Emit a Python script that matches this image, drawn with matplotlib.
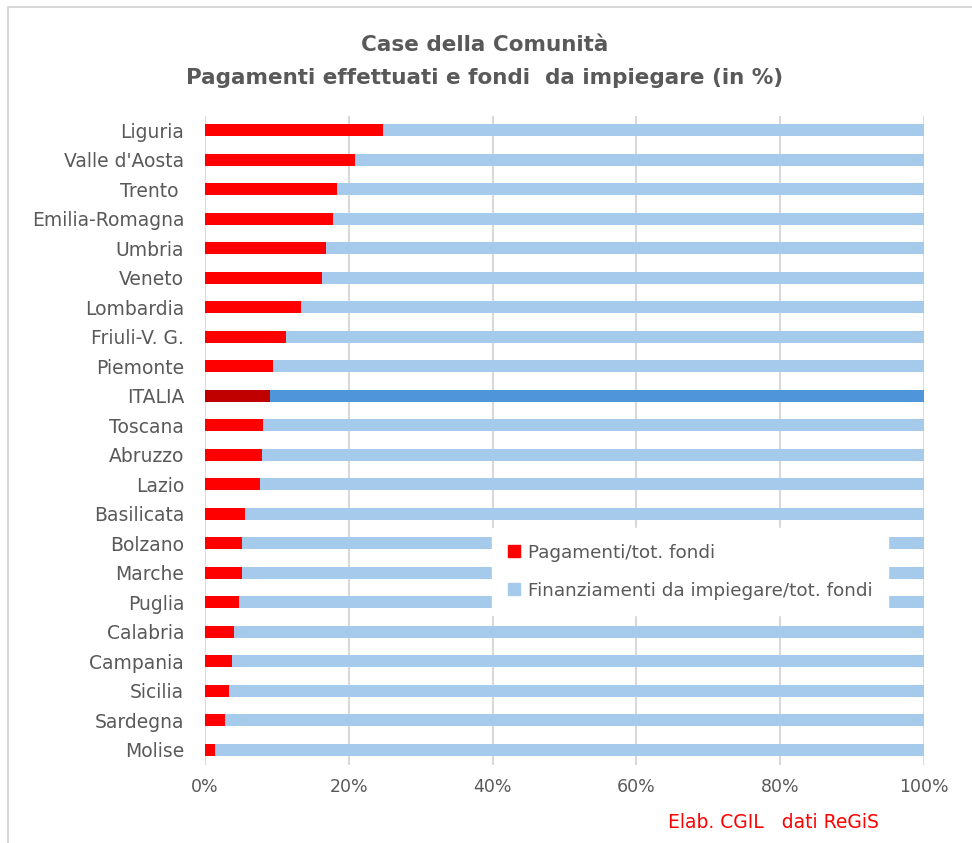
import matplotlib
matplotlib.use("Agg")
import matplotlib.pyplot as plt
from matplotlib.patches import Rectangle
from matplotlib.ticker import PercentFormatter
import numpy as np

# data (top to bottom as shown)
regions = ["Liguria", "Valle d'Aosta", "Trento ", "Emilia-Romagna", "Umbria",
           "Veneto", "Lombardia", "Friuli-V. G.", "Piemonte", "ITALIA",
           "Toscana", "Abruzzo", "Lazio", "Basilicata", "Bolzano", "Marche",
           "Puglia", "Calabria", "Campania", "Sicilia", "Sardegna", "Molise"]
pagamenti = [24.7, 20.9, 18.3, 17.8, 16.8, 16.3, 13.3, 11.2, 9.5, 9.1,
             8.0, 7.95, 7.6, 5.5, 5.2, 5.1, 4.7, 4.0, 3.8, 3.3, 2.8, 1.4]
da_impiegare = [100 - p for p in pagamenti]

RED, BLUE = "#FF0000", "#A6CAEC"
RED_IT, BLUE_IT = "#C00000", "#4E95D9"
GREY = "#595959"

fig = plt.figure(figsize=(9.72, 8.43), dpi=100)
# excel chart-area frame
fig.patches.append(Rectangle((8 / 972, -0.01), 1.0, 1 - 7 / 843 + 0.01,
                             transform=fig.transFigure, fill=False,
                             edgecolor="#D0D0D0", linewidth=1.2))

ax = fig.add_axes([205 / 972, 1 - 764.5 / 843, 719 / 972, 649 / 843])
y = np.arange(len(regions))
c1 = [RED_IT if r == "ITALIA" else RED for r in regions]
c2 = [BLUE_IT if r == "ITALIA" else BLUE for r in regions]
ax.barh(y, pagamenti, height=0.39, color=c1, label="Pagamenti/tot. fondi", zorder=2)
ax.barh(y, da_impiegare, left=pagamenti, height=0.39, color=c2,
        label="Finanziamenti da impiegare/tot. fondi", zorder=2)

ax.set_xlim(0, 100)
ax.set_ylim(len(regions) - 0.5, -0.5)
ax.set_yticks(y)
ax.set_yticklabels(regions, fontsize=13.5, color=GREY)
ax.set_xticks(np.arange(0, 101, 20))
ax.xaxis.set_major_formatter(PercentFormatter(decimals=0))
ax.tick_params(axis="x", length=0, pad=10, labelsize=12.5, labelcolor=GREY)
ax.tick_params(axis="y", length=0, pad=15)
ax.grid(axis="x", color="#D9D9D9", linewidth=1.5, zorder=0)
ax.set_axisbelow(True)
for s in ax.spines.values():
    s.set_visible(False)

h = [plt.Rectangle((0, 0), 1, 1, color=RED), plt.Rectangle((0, 0), 1, 1, color=BLUE)]
l = ["Pagamenti/tot. fondi", "Finanziamenti da impiegare/tot. fondi"]
leg = fig.legend(h, l, loc="upper left", bbox_to_anchor=(492 / 972, 1 - 528 / 843),
                 frameon=True, fancybox=False, framealpha=1, edgecolor="white",
                 fontsize=13.2, handlelength=0.65, handleheight=0.65,
                 handletextpad=0.45, labelspacing=1.1, borderpad=0.85,
                 borderaxespad=0, labelcolor=GREY)
leg.set_zorder(5)

fig.text(0.499, 1 - 45 / 843, "Case della Comunità", ha="center", va="center",
         fontsize=15.5, fontweight="bold", color=GREY)
fig.text(0.499, 1 - 78 / 843, "Pagamenti effettuati e fondi  da impiegare (in %)",
         ha="center", va="center", fontsize=15.5, fontweight="bold", color=GREY)
fig.text(668 / 972, 1 - 822 / 843, "Elab. CGIL   dati ReGiS", ha="left",
         va="center", fontsize=13.5, color="#FF0000")

fig.savefig("out.png", dpi=100)
